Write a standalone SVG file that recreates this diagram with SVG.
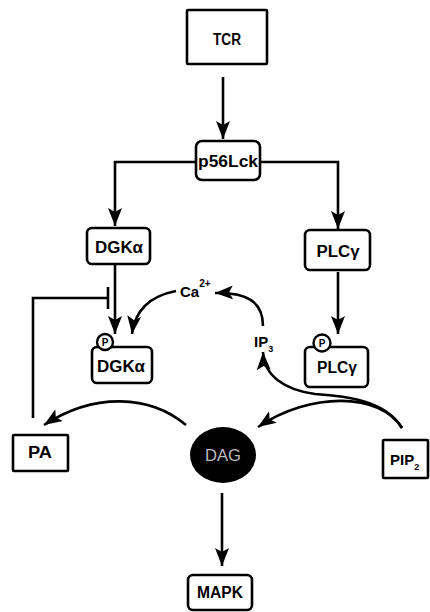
<svg xmlns="http://www.w3.org/2000/svg" width="430" height="612" viewBox="0 0 430 612">
<style>
.box{fill:#fff;stroke:#000;stroke-width:2.6}
.lbl{font-family:"Liberation Sans",Arial,sans-serif;font-weight:bold;font-size:16px;fill:#000;text-anchor:middle}
.sm{font-family:"Liberation Sans",Arial,sans-serif;font-weight:bold;fill:#000}
.ln{fill:none;stroke:#000;stroke-width:2.6}
</style>
<defs>
<marker id="ah" markerUnits="userSpaceOnUse" markerWidth="20" markerHeight="16" refX="18" refY="7" orient="auto">
<path d="M0,0 L18,7 L0,14 L4,7 z" fill="#000"/>
</marker>
</defs>
<rect width="430" height="612" fill="#fff"/>
<g id="connectors">
<path class="ln" d="M223 77 L223 139" marker-end="url(#ah)"/>
<path class="ln" d="M196 162 L115 162 L115 226" marker-end="url(#ah)"/>
<path class="ln" d="M260 162 L338 162 L338 229" marker-end="url(#ah)"/>
<path class="ln" d="M115 265 L115 334" marker-end="url(#ah)"/>
<path class="ln" d="M338 272 L338 334" marker-end="url(#ah)"/>
<path class="ln" d="M33 418 L33 298 L108 298"/>
<path class="ln" d="M108 287 L108 309"/>
<path class="ln" d="M176 291 C150 296 135 310 132 334" marker-end="url(#ah)"/>
<path class="ln" d="M263 326 C263 302 247 292 215 293" marker-end="url(#ah)"/>
<path class="ln" d="M186 425 C150 395 95 392 44 425" marker-end="url(#ah)"/>
<path class="ln" d="M402 428 C380 392 310 392 258 427" marker-end="url(#ah)"/>
<path class="ln" d="M402 428 C385 400 345 396 315 394 C285 390 264 376 263 352" marker-end="url(#ah)"/>
<path class="ln" d="M222 493 L222 566" marker-end="url(#ah)"/>
</g>
<g id="TCR"><rect class="box" x="187" y="10" width="80" height="54" rx="1"/><text class="lbl" x="227" y="45" textLength="28" lengthAdjust="spacingAndGlyphs">TCR</text></g>
<g id="p56Lck"><rect class="box" x="196" y="141" width="64" height="39" rx="6"/><text class="lbl" x="228" y="167" textLength="60" lengthAdjust="spacingAndGlyphs">p56Lck</text></g>
<g id="DGKa1"><rect class="box" x="87" y="228" width="63" height="36" rx="5"/><text class="lbl" x="119" y="253" textLength="48" lengthAdjust="spacingAndGlyphs">DGKα</text></g>
<g id="PLCg1"><rect class="box" x="305" y="230" width="65" height="40" rx="5"/><text class="lbl" x="338" y="257" textLength="43" lengthAdjust="spacingAndGlyphs">PLCγ</text></g>
<g id="DGKa2"><rect class="box" x="92" y="347" width="60" height="36" rx="5"/><text class="lbl" x="121" y="372" textLength="48" lengthAdjust="spacingAndGlyphs">DGKα</text>
<circle cx="105" cy="342" r="8" fill="#fff" stroke="#000" stroke-width="2.4"/><text class="sm" x="105" y="346" font-size="10" text-anchor="middle">P</text></g>
<g id="PLCg2"><rect class="box" x="305" y="347" width="63" height="40" rx="5"/><text class="lbl" x="337" y="373" textLength="40" lengthAdjust="spacingAndGlyphs">PLCγ</text>
<circle cx="322" cy="343" r="8.5" fill="#fff" stroke="#000" stroke-width="2.4"/><text class="sm" x="322" y="347" font-size="10" text-anchor="middle">P</text></g>
<g id="Ca"><text class="sm" x="180" y="297" font-size="15" font-weight="normal">Ca<tspan font-size="10" dy="-10">2+</tspan></text></g>
<g id="IP3"><text class="sm" x="254" y="347" font-size="15">IP<tspan font-size="9" dy="5">3</tspan></text></g>
<g id="PA"><rect class="box" x="13" y="435" width="55" height="36" rx="1"/><text class="lbl" x="40" y="458" textLength="24" lengthAdjust="spacingAndGlyphs">PA</text></g>
<g id="DAG"><ellipse cx="223" cy="455" rx="33" ry="28" fill="#000"/><text x="223" y="461" font-family="Liberation Sans,Arial,sans-serif" font-size="16" fill="#bbb" text-anchor="middle" textLength="36" lengthAdjust="spacingAndGlyphs">DAG</text></g>
<g id="PIP2"><rect class="box" x="383" y="440" width="45" height="38" rx="1"/><text class="sm" x="390" y="465" font-size="15">PIP<tspan font-size="9" dy="5">2</tspan></text></g>
<g id="MAPK"><rect class="box" x="188" y="575" width="64" height="35" rx="5"/><text class="lbl" x="220" y="598" textLength="46" lengthAdjust="spacingAndGlyphs">MAPK</text></g>
</svg>
